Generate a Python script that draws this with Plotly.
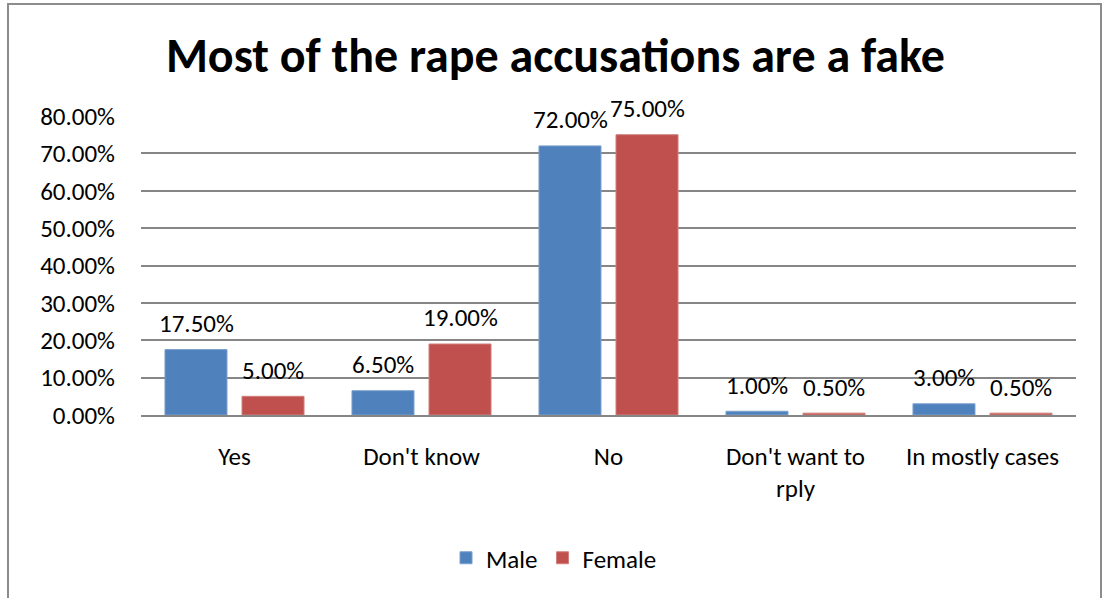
import plotly.graph_objects as go

categories = ["Yes", "Don't know", "No", "Don't want to<br>rply", "In mostly cases"]
male = [0.175, 0.065, 0.72, 0.01, 0.03]
female = [0.05, 0.19, 0.75, 0.005, 0.005]
y_ticks = [0, 0.1, 0.2, 0.3, 0.4, 0.5, 0.6, 0.7, 0.8]

FONT = "Carlito, Lato, sans-serif"
FS = 25

W, H = 1102, 598
L, R, T, B = 141, 26, 116, 183
pw, ph = W - L - R, H - T - B

def px_x(x):
    return (x - L) / pw

def px_y(y):
    return (H - B - y) / ph

fig = go.Figure()
fig.add_trace(go.Bar(
    name="Male", x=categories, y=male,
    marker=dict(color="#4F81BD", line=dict(color="#7BA0CD", width=1)),
))
fig.add_trace(go.Bar(
    name="Female", x=categories, y=female,
    marker=dict(color="#C0504D", line=dict(color="#D0807E", width=1)),
))

for vals, shift in ((male, -38.5), (female, 38.5)):
    for c, v in zip(categories, vals):
        fig.add_annotation(x=c, y=v, xref="x", yref="y", text=f"{v:.2%}",
                           showarrow=False, xshift=shift, yshift=26,
                           yanchor="middle", xanchor="center",
                           font=dict(size=FS, family=FONT, color="#000000"))

fig.update_layout(
    width=W, height=H,
    margin=dict(l=L, r=R, t=T, b=B),
    paper_bgcolor="white", plot_bgcolor="white",
    font=dict(family=FONT, size=FS, color="#000000"),
    title=dict(text="<b>Most of the rape accusations are a fake</b>",
               x=0.504, xref="container", xanchor="center",
               y=1 - 55 / H, yref="container", yanchor="middle",
               font=dict(size=48, family=FONT, color="#000000")),
    barmode="group", bargap=0.176, bargroupgap=0.195,
    showlegend=True,
    legend=dict(orientation="h", x=px_x(554), xanchor="center",
                y=px_y(558), yanchor="middle",
                font=dict(size=FS, family=FONT), itemwidth=30,
                traceorder="normal"),
)
fig.update_yaxes(range=[0, 0.8], tickvals=y_ticks, tickformat=".2%",
                 showgrid=True, gridcolor="#868686", gridwidth=1.5,
                 zeroline=False, showline=False, ticks="",
                 ticklabelstandoff=25,
                 tickfont=dict(size=FS, family=FONT))
fig.update_xaxes(showline=True, linecolor="#868686", linewidth=1.5,
                 ticks="", tickfont=dict(size=FS, family=FONT),
                 ticklabelstandoff=18)

fig.add_shape(type="rect", xref="paper", yref="paper",
              x0=px_x(8), x1=px_x(1101), y0=px_y(620), y1=px_y(4),
              line=dict(color="#8C8C8C", width=2), layer="below")

fig.write_html("out.html")
